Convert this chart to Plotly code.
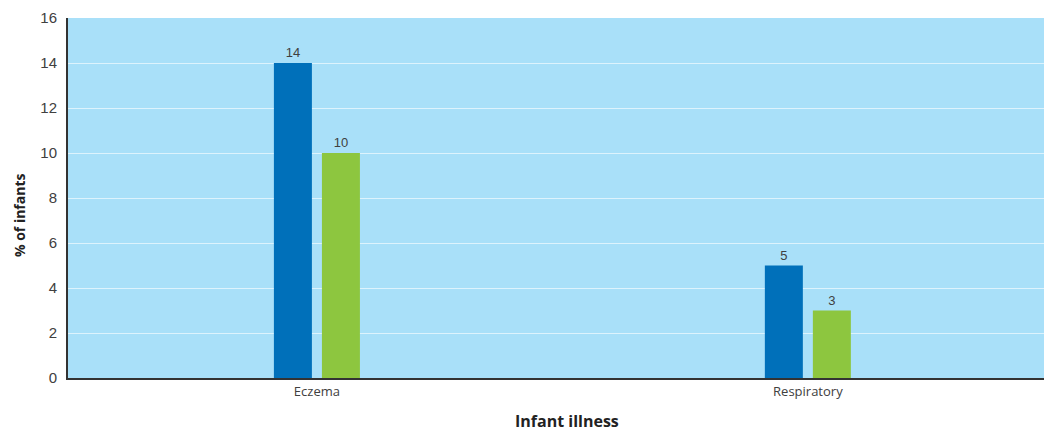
import plotly.graph_objects as go

# Share of infants with each illness, by group
categories = ["Eczema", "Respiratory"]
group_a = [14, 5]
group_b = [10, 3]
y_ticks = [0, 2, 4, 6, 8, 10, 12, 14, 16]

BLUE = "#0070BA"
GREEN = "#8DC63F"
BG = "#A9E0F9"
TEXT = "#404040"
NARROW = "Liberation Sans Narrow, Arial Narrow, Liberation Sans, sans-serif"
SANS = "Open Sans, sans-serif"

fig = go.Figure()
fig.add_trace(go.Bar(
    x=categories, y=group_a, marker=dict(color=BLUE, line=dict(width=0)),
    width=0.0774, offset=-0.0876,
    text=[str(v) for v in group_a], textposition="outside",
    textfont=dict(family=NARROW, size=13, color=TEXT), cliponaxis=False,
))
fig.add_trace(go.Bar(
    x=categories, y=group_b, marker=dict(color=GREEN, line=dict(width=0)),
    width=0.0774, offset=0.0102,
    text=[str(v) for v in group_b], textposition="outside",
    textfont=dict(family=NARROW, size=13, color=TEXT), cliponaxis=False,
))

fig.update_layout(
    width=1044, height=432,
    margin=dict(l=68, r=0, t=18, b=54),
    paper_bgcolor="white", plot_bgcolor=BG,
    showlegend=False, barmode="overlay",
    xaxis=dict(
        range=[-0.507, 1.481], showgrid=False, ticks="",
        showline=True, linecolor="#333333", linewidth=2,
        tickfont=dict(family=SANS, size=13, color=TEXT),
    ),
    yaxis=dict(
        range=[0, 16], tickvals=y_ticks, showgrid=True,
        gridcolor="#DDF3FD", gridwidth=1, zeroline=False,
        showline=True, linecolor="#333333", linewidth=2, ticks="",
        ticklabelstandoff=6,
        tickfont=dict(family=NARROW, size=15, color=TEXT),
    ),
    annotations=[
        dict(text="<b>Infant illness</b>", xref="paper", yref="paper",
             x=0.511, y=-0.119, xanchor="center", yanchor="middle",
             showarrow=False, font=dict(family=SANS, size=16, color="#222222")),
        dict(text="<b>% of infants</b>", xref="paper", yref="paper",
             x=-0.049, y=0.453, xanchor="center", yanchor="middle", textangle=-90,
             showarrow=False, font=dict(family=SANS, size=14, color="#222222")),
    ],
)

fig.write_html("out.html")
